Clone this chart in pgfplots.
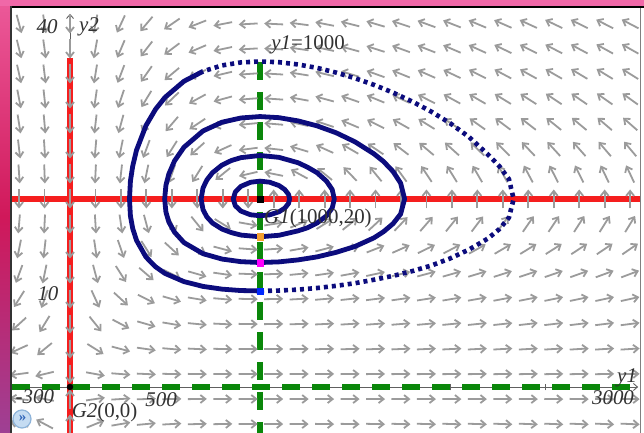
\documentclass[border=0pt]{standalone}
\usepackage{pgfplots}
\pgfplotsset{compat=1.18}
\usepackage{pgfplotstable}
\usepackage{fontspec}
\setmainfont{Liberation Serif}
\usetikzlibrary{arrows.meta}
\definecolor{navy}{RGB}{12,12,125}
\definecolor{ncred}{RGB}{245,30,30}
\definecolor{ncgreen}{RGB}{10,135,10}
\definecolor{fieldgray}{RGB}{155,155,155}
\definecolor{labelgray}{RGB}{50,50,50}
\definecolor{bandtop}{RGB}{240,104,168}
\definecolor{bandA}{RGB}{236,90,154}
\definecolor{bandB}{RGB}{208,24,90}
\definecolor{bandC}{RGB}{158,64,148}
\definecolor{icfill}{RGB}{197,220,242}
\definecolor{icring}{RGB}{142,180,218}
\definecolor{ictext}{RGB}{46,99,184}
\definecolor{icorange}{RGB}{245,160,48}
\definecolor{icmag}{RGB}{255,0,255}
\definecolor{icblue}{RGB}{0,40,255}

% direction field: grid points (x,y) and screen-direction components (u,v)
\pgfplotstableread{
x y u v
-268 38.62 5.08 -19
-134 38.62 2.54 -17
0 38.62 0 -15
134 38.62 -2.54 -13
268 38.62 -5.08 -11
402 38.62 -7.61 -9
536 38.62 -10.15 -7
670 38.62 -12.69 -5
804 38.62 -15.23 -3
938 38.62 -17.76 -1
1072 38.62 -20.30 1
1206 38.62 -22.84 3
1340 38.62 -25.38 5
1474 38.62 -27.91 7
1608 38.62 -30.45 9
1742 38.62 -32.99 11
1876 38.62 -35.53 13
2010 38.62 -38.06 15
2144 38.62 -40.60 17
2278 38.62 -43.14 19
2412 38.62 -45.68 21
2546 38.62 -48.21 23
2680 38.62 -50.75 25
2814 38.62 -53.29 27
2948 38.62 -55.83 29
-268 35.96 4.67 -19
-134 35.96 2.34 -17
0 35.96 0 -15
134 35.96 -2.34 -13
268 35.96 -4.67 -11
402 35.96 -7.01 -9
536 35.96 -9.34 -7
670 35.96 -11.68 -5
804 35.96 -14.02 -3
938 35.96 -16.35 -1
1072 35.96 -18.69 1
1206 35.96 -21.02 3
1340 35.96 -23.36 5
1474 35.96 -25.69 7
1608 35.96 -28.03 9
1742 35.96 -30.37 11
1876 35.96 -32.70 13
2010 35.96 -35.04 15
2144 35.96 -37.37 17
2278 35.96 -39.71 19
2412 35.96 -42.05 21
2546 35.96 -44.38 23
2680 35.96 -46.72 25
2814 35.96 -49.05 27
2948 35.96 -51.39 29
-268 33.30 4.20 -19
-134 33.30 2.10 -17
0 33.30 0 -15
134 33.30 -2.10 -13
268 33.30 -4.20 -11
402 33.30 -6.31 -9
536 33.30 -8.41 -7
670 33.30 -10.51 -5
804 33.30 -12.61 -3
938 33.30 -14.71 -1
1072 33.30 -16.82 1
1206 33.30 -18.92 3
1340 33.30 -21.02 5
1474 33.30 -23.12 7
1608 33.30 -25.23 9
1742 33.30 -27.33 11
1876 33.30 -29.43 13
2010 33.30 -31.53 15
2144 33.30 -33.63 17
2278 33.30 -35.74 19
2412 33.30 -37.84 21
2546 33.30 -39.94 23
2680 33.30 -42.04 25
2814 33.30 -44.14 27
2948 33.30 -46.25 29
-268 30.64 3.66 -19
-134 30.64 1.83 -17
0 30.64 0 -15
134 30.64 -1.83 -13
268 30.64 -3.66 -11
402 30.64 -5.48 -9
536 30.64 -7.31 -7
670 30.64 -9.14 -5
804 30.64 -10.97 -3
938 30.64 -12.79 -1
1072 30.64 -14.62 1
1206 30.64 -16.45 3
1340 30.64 -18.28 5
1474 30.64 -20.10 7
1608 30.64 -21.93 9
1742 30.64 -23.76 11
1876 30.64 -25.59 13
2010 30.64 -27.42 15
2144 30.64 -29.24 17
2278 30.64 -31.07 19
2412 30.64 -32.90 21
2546 30.64 -34.73 23
2680 30.64 -36.55 25
2814 30.64 -38.38 27
2948 30.64 -40.21 29
-268 27.98 3.00 -19
-134 27.98 1.50 -17
0 27.98 0 -15
134 27.98 -1.50 -13
268 27.98 -3.00 -11
402 27.98 -4.50 -9
536 27.98 -6.00 -7
670 27.98 -7.51 -5
804 27.98 -9.01 -3
938 27.98 -10.51 -1
1072 27.98 -12.01 1
1206 27.98 -13.51 3
1340 27.98 -15.01 5
1474 27.98 -16.51 7
1608 27.98 -18.01 9
1742 27.98 -19.51 11
1876 27.98 -21.02 13
2010 27.98 -22.52 15
2144 27.98 -24.02 17
2278 27.98 -25.52 19
2412 27.98 -27.02 21
2546 27.98 -28.52 23
2680 27.98 -30.02 25
2814 27.98 -31.52 27
2948 27.98 -33.02 29
-268 25.32 2.21 -19
-134 25.32 1.11 -17
0 25.32 0 -15
134 25.32 -1.11 -13
268 25.32 -2.21 -11
402 25.32 -3.32 -9
536 25.32 -4.42 -7
670 25.32 -5.53 -5
804 25.32 -6.63 -3
938 25.32 -7.74 -1
1072 25.32 -8.85 1
1206 25.32 -9.95 3
1340 25.32 -11.06 5
1474 25.32 -12.16 7
1608 25.32 -13.27 9
1742 25.32 -14.38 11
1876 25.32 -15.48 13
2010 25.32 -16.59 15
2144 25.32 -17.69 17
2278 25.32 -18.80 19
2412 25.32 -19.90 21
2546 25.32 -21.01 23
2680 25.32 -22.12 25
2814 25.32 -23.22 27
2948 25.32 -24.33 29
-268 22.66 1.24 -19
-134 22.66 0.62 -17
0 22.66 0 -15
134 22.66 -0.62 -13
268 22.66 -1.24 -11
402 22.66 -1.85 -9
536 22.66 -2.47 -7
670 22.66 -3.09 -5
804 22.66 -3.71 -3
938 22.66 -4.32 -1
1072 22.66 -4.94 1
1206 22.66 -5.56 3
1340 22.66 -6.18 5
1474 22.66 -6.80 7
1608 22.66 -7.41 9
1742 22.66 -8.03 11
1876 22.66 -8.65 13
2010 22.66 -9.27 15
2144 22.66 -9.88 17
2278 22.66 -10.50 19
2412 22.66 -11.12 21
2546 22.66 -11.74 23
2680 22.66 -12.36 25
2814 22.66 -12.97 27
2948 22.66 -13.59 29
-268 20 0 -19
-134 20 0 -17
0 20 0 -15
134 20 0 -13
268 20 0 -11
402 20 0 -9
536 20 0 -7
670 20 0 -5
804 20 0 -3
938 20 0 -1
1072 20 0 1
1206 20 0 3
1340 20 0 5
1474 20 0 7
1608 20 0 9
1742 20 0 11
1876 20 0 13
2010 20 0 15
2144 20 0 17
2278 20 0 19
2412 20 0 21
2546 20 0 23
2680 20 0 25
2814 20 0 27
2948 20 0 29
-268 17.34 -1.61 -19
-134 17.34 -0.81 -17
0 17.34 0 -15
134 17.34 0.81 -13
268 17.34 1.61 -11
402 17.34 2.42 -9
536 17.34 3.23 -7
670 17.34 4.04 -5
804 17.34 4.84 -3
938 17.34 5.65 -1
1072 17.34 6.46 1
1206 17.34 7.27 3
1340 17.34 8.07 5
1474 17.34 8.88 7
1608 17.34 9.69 9
1742 17.34 10.50 11
1876 17.34 11.30 13
2010 17.34 12.11 15
2144 17.34 12.92 17
2278 17.34 13.73 19
2412 17.34 14.53 21
2546 17.34 15.34 23
2680 17.34 16.15 25
2814 17.34 16.96 27
2948 17.34 17.76 29
-268 14.68 -3.81 -19
-134 14.68 -1.91 -17
0 14.68 0 -15
134 14.68 1.91 -13
268 14.68 3.81 -11
402 14.68 5.72 -9
536 14.68 7.63 -7
670 14.68 9.54 -5
804 14.68 11.44 -3
938 14.68 13.35 -1
1072 14.68 15.26 1
1206 14.68 17.17 3
1340 14.68 19.07 5
1474 14.68 20.98 7
1608 14.68 22.89 9
1742 14.68 24.80 11
1876 14.68 26.70 13
2010 14.68 28.61 15
2144 14.68 30.52 17
2278 14.68 32.43 19
2412 14.68 34.33 21
2546 14.68 36.24 23
2680 14.68 38.15 25
2814 14.68 40.06 27
2948 14.68 41.96 29
-268 12.02 -6.99 -19
-134 12.02 -3.49 -17
0 12.02 0 -15
134 12.02 3.49 -13
268 12.02 6.99 -11
402 12.02 10.48 -9
536 12.02 13.98 -7
670 12.02 17.47 -5
804 12.02 20.97 -3
938 12.02 24.46 -1
1072 12.02 27.95 1
1206 12.02 31.45 3
1340 12.02 34.94 5
1474 12.02 38.44 7
1608 12.02 41.93 9
1742 12.02 45.42 11
1876 12.02 48.92 13
2010 12.02 52.41 15
2144 12.02 55.91 17
2278 12.02 59.40 19
2412 12.02 62.90 21
2546 12.02 66.39 23
2680 12.02 69.88 25
2814 12.02 73.38 27
2948 12.02 76.87 29
-268 9.36 -11.97 -19
-134 9.36 -5.98 -17
0 9.36 0 -15
134 9.36 5.98 -13
268 9.36 11.97 -11
402 9.36 17.95 -9
536 9.36 23.93 -7
670 9.36 29.91 -5
804 9.36 35.90 -3
938 9.36 41.88 -1
1072 9.36 47.86 1
1206 9.36 53.85 3
1340 9.36 59.83 5
1474 9.36 65.81 7
1608 9.36 71.79 9
1742 9.36 77.78 11
1876 9.36 83.76 13
2010 9.36 89.74 15
2144 9.36 95.73 17
2278 9.36 101.71 19
2412 9.36 107.69 21
2546 9.36 113.68 23
2680 9.36 119.66 25
2814 9.36 125.64 27
2948 9.36 131.62 29
-268 6.70 -20.90 -19
-134 6.70 -10.45 -17
0 6.70 0 -15
134 6.70 10.45 -13
268 6.70 20.90 -11
402 6.70 31.34 -9
536 6.70 41.79 -7
670 6.70 52.24 -5
804 6.70 62.69 -3
938 6.70 73.14 -1
1072 6.70 83.58 1
1206 6.70 94.03 3
1340 6.70 104.48 5
1474 6.70 114.93 7
1608 6.70 125.38 9
1742 6.70 135.82 11
1876 6.70 146.27 13
2010 6.70 156.72 15
2144 6.70 167.17 17
2278 6.70 177.62 19
2412 6.70 188.06 21
2546 6.70 198.51 23
2680 6.70 208.96 25
2814 6.70 219.41 27
2948 6.70 229.86 29
-268 4.04 -41.58 -19
-134 4.04 -20.79 -17
0 4.04 0 -15
134 4.04 20.79 -13
268 4.04 41.58 -11
402 4.04 62.38 -9
536 4.04 83.17 -7
670 4.04 103.96 -5
804 4.04 124.75 -3
938 4.04 145.54 -1
1072 4.04 166.34 1
1206 4.04 187.13 3
1340 4.04 207.92 5
1474 4.04 228.71 7
1608 4.04 249.50 9
1742 4.04 270.30 11
1876 4.04 291.09 13
2010 4.04 311.88 15
2144 4.04 332.67 17
2278 4.04 353.46 19
2412 4.04 374.26 21
2546 4.04 395.05 23
2680 4.04 415.84 25
2814 4.04 436.63 27
2948 4.04 457.42 29
-268 1.38 -71.0 -9.5
-134 1.38 -35.5 -8.5
0 1.38 0 -7.5
134 1.38 35.5 -6.5
268 1.38 71.0 -5.5
402 1.38 106.5 -4.5
536 1.38 142.0 -3.5
670 1.38 177.5 -2.5
804 1.38 213.0 -1.5
938 1.38 248.5 -0.5
1072 1.38 284.0 0.5
1206 1.38 319.5 1.5
1340 1.38 355.0 2.5
1474 1.38 390.5 3.5
1608 1.38 426.0 4.5
1742 1.38 461.5 5.5
1876 1.38 497.0 6.5
2010 1.38 532.5 7.5
2144 1.38 568.0 8.5
2278 1.38 603.5 9.5
2412 1.38 639.0 10.5
2546 1.38 674.5 11.5
2680 1.38 710.0 12.5
2814 1.38 745.5 13.5
2948 1.38 781.0 14.5
-268 -1.28 -87.5 9.5
-134 -1.28 -43.75 8.5
0 -1.28 0 7.5
134 -1.28 43.75 6.5
268 -1.28 87.5 5.5
402 -1.28 131.25 4.5
536 -1.28 175 3.5
670 -1.28 218.75 2.5
804 -1.28 262.5 1.5
938 -1.28 306.25 0.5
1072 -1.28 350 -0.5
1206 -1.28 393.75 -1.5
1340 -1.28 437.5 -2.5
1474 -1.28 481.25 -3.5
1608 -1.28 525 -4.5
1742 -1.28 568.75 -5.5
1876 -1.28 612.5 -6.5
2010 -1.28 656.25 -7.5
2144 -1.28 700 -8.5
2278 -1.28 743.75 -9.5
2412 -1.28 787.5 -10.5
2546 -1.28 831.25 -11.5
2680 -1.28 875 -12.5
2814 -1.28 918.75 -13.5
2948 -1.28 962.5 -14.5
-268 -3.94 -63.96 19
-134 -3.94 -31.98 17
0 -3.94 0 15
134 -3.94 31.98 13
268 -3.94 63.96 11
402 -3.94 95.94 9
536 -3.94 127.92 7
670 -3.94 159.9 5
804 -3.94 191.88 3
938 -3.94 223.86 1
1072 -3.94 255.84 -1
1206 -3.94 287.82 -3
1340 -3.94 319.8 -5
1474 -3.94 351.78 -7
1608 -3.94 383.76 -9
1742 -3.94 415.74 -11
1876 -3.94 447.72 -13
2010 -3.94 479.7 -15
2144 -3.94 511.68 -17
2278 -3.94 543.66 -19
2412 -3.94 575.64 -21
2546 -3.94 607.62 -23
2680 -3.94 639.6 -25
2814 -3.94 671.58 -27
2948 -3.94 703.56 -29
}\field

\def\Nrm{(sqrt((\thisrow{u}/10)*(\thisrow{u}/10)+(\thisrow{v}/10)*(\thisrow{v}/10)))}

\begin{document}
\begin{tikzpicture}[x=1bp,y=1bp]
\useasboundingbox (0,0) rectangle (644,433);
\fill[white] (0,0) rectangle (644,433);
\shade[top color=bandA, bottom color=bandC, middle color=bandB] (0,0) rectangle (11,433);
\fill[bandtop] (0,427) rectangle (644,433);
\begin{axis}[at={(12bp,0bp)}, anchor=south west, width=628bp, height=425bp,
  scale only axis, xmin=-305.3, xmax=3000, ymin=-4.894, ymax=40.32,
  axis lines=none, clip=true]
% axes
\addplot[gray!75!black, line width=0.9bp, -{Straight Barb[length=4bp,width=7bp]}] coordinates {(-305.3,0) (2990,0)};
\addplot[gray!75!black, line width=0.9bp, -{Straight Barb[length=4bp,width=7bp]}] coordinates {(0,-4.894) (0,39.7)};
\draw[gray!75!black, line width=0.8bp] (axis cs:500,-0.35)--(axis cs:500,0.35) (axis cs:1500,-0.35)--(axis cs:1500,0.35) (axis cs:2000,-0.35)--(axis cs:2000,0.35) (axis cs:2500,-0.35)--(axis cs:2500,0.35);
% nullclines
\addplot[ncred, line width=5.8bp] coordinates {(0,-4.894) (0,35)};
\addplot[ncred, line width=5.8bp] coordinates {(-305.3,20) (3000,20)};
\addplot[ncgreen, line width=6bp, dash pattern=on 18bp off 12bp] coordinates {(1000,34.6) (1000,-4.894)};
\addplot[ncgreen, line width=6bp, dash pattern=on 18bp off 12bp] coordinates {(-305.3,0) (3000,0)};
% direction field
\addplot[fieldgray, line width=1.8bp, -{Straight Barb[length=5bp,width=8bp]},
  quiver={u={100*(\thisrow{u}/10)/\Nrm}, v={2.02*(\thisrow{v}/10)/\Nrm}}]
  table[x expr={\thisrow{x}-50*(\thisrow{u}/10)/\Nrm}, y expr={\thisrow{y}-1.01*(\thisrow{v}/10)/\Nrm}] {\field};
% trajectories
\addplot[navy, line width=4.6bp, line cap=butt, dash pattern=on 4bp off 4bp] coordinates {
(1000,10.22) (1100,10.26) (1200,10.36) (1300,10.53) (1400,10.76) (1500,11.04) (1600,11.41) (1700,11.82) (1800,12.32) (1900,12.91) (2000,13.67) (2100,14.62) (2200,15.80) (2260,16.80) (2310,18.02) (2335,20) (2310,22.12) (2260,23.48) (2200,24.73) (2100,26.60) (2000,28.07) (1900,29.31) (1800,30.38) (1700,31.32) (1600,32.14) (1500,32.85) (1400,33.45) (1300,33.95) (1200,34.31) (1100,34.55) (1000,34.63) (900,34.53) (800,34.21) (700,33.58)};
\addplot[navy, line width=4.8bp, line join=round] coordinates {
(700,33.58) (600,32.53) (500,30.81) (450,29.54) (400,27.82) (350,25.19) (330,23.50) (318,21.92) (313,20) (318,18.19) (330,16.86) (350,15.60) (400,13.82) (450,12.79) (500,12.08) (600,11.21) (700,10.70) (800,10.41) (900,10.26) (1000,10.22)};
\addplot[navy, line width=4.8bp, line join=round] coordinates {
(1000,13.24) (1100,13.31) (1200,13.52) (1300,13.84) (1400,14.32) (1500,14.95) (1600,15.87) (1650,16.52) (1700,17.37) (1740,18.40) (1761,20) (1740,21.69) (1700,22.93) (1650,23.99) (1600,24.80) (1500,26.08) (1400,27.05) (1300,27.78) (1200,28.31) (1100,28.65) (1000,28.77) (900,28.62) (800,28.17) (700,27.24) (600,25.51) (550,24.05) (520,22.65) (505,21.48) (498,20) (505,18.59) (520,17.56) (550,16.47) (600,15.36) (700,14.18) (800,13.61) (900,13.33) (1000,13.24)};
\addplot[navy, line width=4.8bp, line join=round] coordinates {
(1000,15.98) (1100,16.14) (1200,16.61) (1250,16.94) (1300,17.44) (1350,18.21) (1380,19.04) (1391,20) (1380,21.00) (1350,21.90) (1300,22.80) (1250,23.38) (1200,23.86) (1100,24.43) (1000,24.63) (900,24.40) (850,24.10) (800,23.61) (750,22.80) (720,22.02) (700,21.17) (690,20) (700,18.87) (720,18.10) (750,17.44) (800,16.80) (850,16.42) (900,16.16) (1000,15.98)};
\addplot[navy, line width=4.8bp, line join=round] coordinates {
(1000,18.22) (1050,18.31) (1100,18.64) (1130,19.02) (1150,19.52) (1156,20) (1150,20.49) (1130,21.01) (1100,21.43) (1050,21.79) (1000,21.90) (950,21.78) (900,21.35) (870,20.74) (859,20) (870,19.28) (900,18.71) (950,18.32) (1000,18.22)};
% points
\addplot[only marks, mark=square*, mark size=3.2bp, icorange, mark options={draw=icorange}] coordinates {(1000,15.98)};
\addplot[only marks, mark=square*, mark size=3.2bp, icmag, mark options={draw=icmag}] coordinates {(1000,13.24)};
\addplot[only marks, mark=square*, mark size=3.2bp, icblue, mark options={draw=icblue}] coordinates {(1000,10.22)};
\addplot[only marks, mark=square*, mark size=3bp, black] coordinates {(1000,20)};
\addplot[only marks, mark=*, mark size=3bp, black] coordinates {(0,0)};
% labels
\begin{scope}[every node/.style={font=\fontsize{21}{25}\selectfont, text=labelgray, inner sep=0pt}]
\node at (axis cs:-121,38.3) {\itshape 40};
\node at (axis cs:100,38.3) {\itshape y2};
\node at (axis cs:-116,9.9) {\itshape 10};
\node at (axis cs:-185,-1.05) {\itshape -300};
\node at (axis cs:479,-1.3) {\itshape 500};
\node at (axis cs:182,-2.66) {{\itshape G2}(0,0)};
\node at (axis cs:2858,-1.17) {\itshape 3000};
\node at (axis cs:2932,0.96) {\itshape y1};
\node at (axis cs:1253,36.4) {{\itshape y1}=1000};
\node at (axis cs:1305,17.9) {{\itshape G1}(1000,20)};
\end{scope}
\end{axis}
\draw[black, line width=2bp] (11,426) -- (644,426);
\draw[black!80, line width=1.6bp] (11,0) -- (11,427);
\draw[gray, line width=1bp] (640.5,0) -- (640.5,425);
\fill[icfill, draw=icring, line width=1.2bp] (22,14) circle (9);
\node[text=ictext, font=\fontsize{15}{15}\selectfont\bfseries, inner sep=0pt] at (22.5,14.5) {»};
\end{tikzpicture}
\end{document}
